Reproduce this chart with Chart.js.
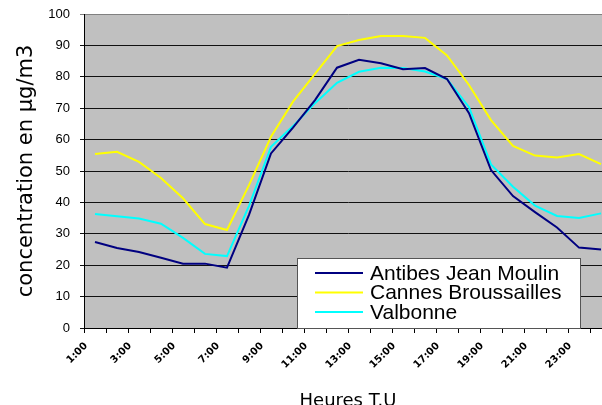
<!DOCTYPE html>
<html>
<head>
<meta charset="utf-8">
<script src="https://cdn.jsdelivr.net/npm/chart.js@4"></script>
<style>
  html, body { margin: 0; padding: 0; overflow: hidden; background: #fff; }
  #wrap { width: 630px; height: 412px; }
</style>
</head>
<body>
<div id="wrap"><canvas id="chart"></canvas></div>
<script>
// Heures (1:00 .. 24:00)
const hours = ['1:00','2:00','3:00','4:00','5:00','6:00','7:00','8:00','9:00','10:00','11:00','12:00',
               '13:00','14:00','15:00','16:00','17:00','18:00','19:00','20:00','21:00','22:00','23:00','24:00'];

const antibes = [27.4, 25.5, 24.2, 22.4, 20.5, 20.5, 19.2, 36.0, 55.6, 63.8, 72.6, 82.9,
                 85.4, 84.3, 82.4, 82.8, 79.3, 68.4, 50.3, 42.0, 36.9, 32.0, 25.6, 25.0];
const cannes  = [55.4, 56.1, 52.9, 47.8, 41.3, 33.1, 31.2, 45.5, 60.9, 72.1, 80.9, 89.8,
                 91.7, 93.0, 93.0, 92.4, 86.8, 77.4, 66.2, 58.0, 54.9, 54.3, 55.4, 52.2];
const valbonne = [36.3, 35.6, 34.9, 33.2, 28.7, 23.6, 22.9, 38.9, 57.7, 64.3, 71.6, 78.1,
                  81.6, 82.9, 82.8, 81.7, 79.3, 70.3, 52.1, 45.0, 39.0, 35.7, 35.0, 36.5];

const yTicks = [0, 10, 20, 30, 40, 50, 60, 70, 80, 90, 100];

// fond gris de la zone de tracé
const plotBackground = {
    id: 'plotBackground',
    beforeDraw(chart) {
        const { ctx, chartArea: a } = chart;
        ctx.save();
        ctx.fillStyle = '#c0c0c0';
        ctx.fillRect(a.left, a.top, a.right - a.left, a.bottom - a.top);
        ctx.restore();
    }
};

// légende encadrée dans la zone de tracé
const boxLegend = {
    id: 'boxLegend',
    afterDraw(chart) {
        const ctx = chart.ctx;
        const x = 297, y = 258, w = 283, h = 70;
        ctx.save();
        ctx.fillStyle = '#fff';
        ctx.fillRect(x, y, w, h);
        ctx.strokeStyle = '#555';
        ctx.lineWidth = 1;
        ctx.strokeRect(x + 0.5, y + 0.5, w, h);
        ctx.font = '21px "Liberation Sans", Arial, sans-serif';
        ctx.textBaseline = 'middle';
        chart.data.datasets.forEach((ds, i) => {
            const cy = y + 15 + i * 19.5;
            ctx.strokeStyle = ds.borderColor;
            ctx.lineWidth = 2;
            ctx.beginPath();
            ctx.moveTo(x + 18, cy);
            ctx.lineTo(x + 66, cy);
            ctx.stroke();
            ctx.fillStyle = '#000';
            ctx.fillText(ds.label, x + 73, cy + 1);
        });
        ctx.restore();
    }
};

const comic = '"Comic Sans MS", "DejaVu Sans", sans-serif';

new Chart(document.getElementById('chart'), {
    type: 'line',
    data: {
        labels: hours,
        datasets: [
            { label: 'Antibes Jean Moulin', data: antibes, borderColor: '#000080' },
            { label: 'Cannes Broussailles', data: cannes, borderColor: '#ffff00' },
            { label: 'Valbonne', data: valbonne, borderColor: '#00ffff' }
        ].map(d => Object.assign(d, { borderWidth: 2, pointRadius: 0, tension: 0, fill: false }))
    },
    options: {
        responsive: true,
        maintainAspectRatio: false,
        animation: false,
        layout: { padding: { left: 0, right: 18, top: 14, bottom: 0 } },
        plugins: {
            legend: { display: false },
            tooltip: { enabled: false }
        },
        scales: {
            x: {
                type: 'category',
                offset: true,
                afterFit: (axis) => { axis.height = 84; },
                grid: {
                    offset: true,
                    drawOnChartArea: false,
                    drawTicks: true,
                    tickLength: 5,
                    color: '#000'
                },
                border: { display: true, color: '#000', width: 1 },
                ticks: {
                    autoSkip: false,
                    minRotation: 45,
                    maxRotation: 45,
                    labelOffset: -9,
                    padding: 7,
                    color: '#000',
                    font: { family: comic, size: 10, weight: 'bold' },
                    callback: function (value, index) {
                        return index % 2 === 0 ? this.getLabelForValue(value) : '';
                    }
                },
                title: {
                    display: true,
                    text: 'Heures T.U',
                    color: '#000',
                    font: { family: comic, size: 18 },
                    padding: { top: 0, bottom: 0 }
                }
            },
            y: {
                min: 0,
                max: 100,
                afterFit: (axis) => {
                    axis.width = 84;
                    axis.paddingTop = 0;
                    axis.paddingBottom = 0;
                },
                afterBuildTicks: (axis) => { axis.ticks = yTicks.map(v => ({ value: v })); },
                grid: {
                    color: (c) => c.tick && c.tick.value === 100 ? '#808080' : '#111',
                    lineWidth: 1,
                    drawTicks: true,
                    tickLength: 4
                },
                border: { display: true, color: '#000', width: 1 },
                ticks: {
                    padding: 10,
                    color: '#000',
                    font: { family: '"Liberation Sans", Arial, sans-serif', size: 13 }
                },
                title: {
                    display: true,
                    text: 'concentration en µg/m3',
                    color: '#000',
                    font: { family: comic, size: 21 },
                    padding: { top: 14, bottom: 0 }
                }
            }
        }
    },
    plugins: [plotBackground, boxLegend]
});
</script>
</body>
</html>
